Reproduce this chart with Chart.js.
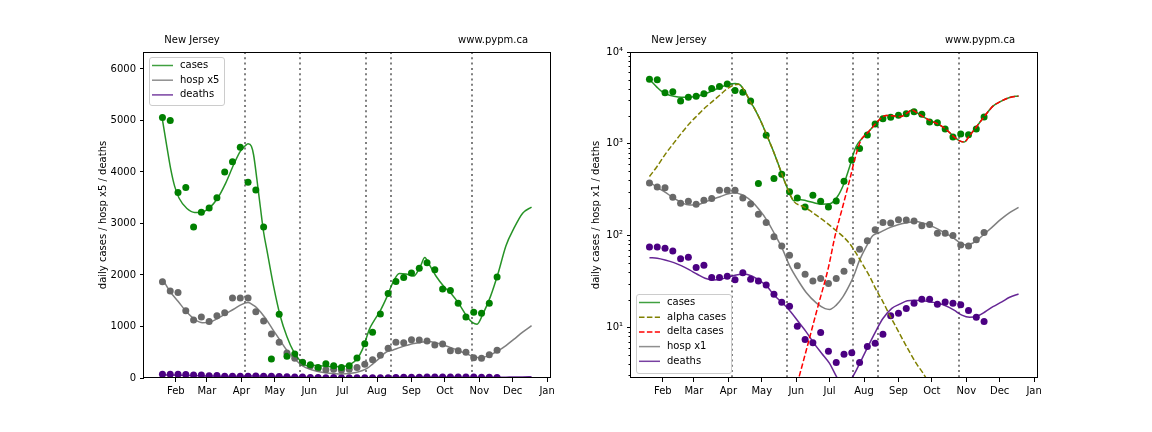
<!DOCTYPE html>
<html>
<head>
<meta charset="utf-8">
<script src="https://cdn.jsdelivr.net/npm/chart.js@4.4.0/dist/chart.umd.min.js"></script>
<style>
  html, body { margin: 0; padding: 0; background: #fff; }
  #wrap { position: relative; width: 1152px; height: 432px; }
  canvas { position: absolute; top: 0; }
</style>
</head>
<body>
<div id="wrap">
  <canvas id="linChart" width="576" height="432" style="left:0"></canvas>
  <canvas id="logChart" width="576" height="432" style="left:576px"></canvas>
</div>
<script>
// day numbers count from Jan 1 2021 (= 0)
var monthDays = [31, 59, 90, 120, 151, 181, 212, 243, 273, 304, 334, 365];
var monthLabels = ['Feb', 'Mar', 'Apr', 'May', 'Jun', 'Jul', 'Aug', 'Sep', 'Oct', 'Nov', 'Dec', 'Jan'];
var changeDays = [93, 143, 202, 225, 297];
var linTicks = [0, 1000, 2000, 3000, 4000, 5000, 6000];
var logTicks = [10, 100, 1000, 10000];
var logLabels = ['10\u00b9', '10\u00b2', '10\u00b3', '10\u2074'];

// weekly data points
var pointDays = [19, 26, 33, 40, 47, 54, 61, 68, 75, 82, 89, 96, 103, 110, 117, 124, 131, 138, 145, 152,
  159, 166, 173, 180, 187, 194, 201, 208, 215, 222, 229, 236, 243, 250, 257, 264, 271, 278, 285, 292,
  299, 306, 313, 320];
var casesPts = [5060, 5000, 3600, 3700, 2930, 3220, 3300, 3500, 4000, 4200, 4480, 3800, 3650, 2930, 370, 1240,
  420, 465, 300, 257, 205, 275, 236, 205, 238, 390, 665, 890, 1245, 1640, 1875, 1950, 2040, 2130, 2240, 2100,
  1730, 1700, 1450, 1185, 1275, 1255, 1450, 1960];
var hospPts = [374, 338, 332, 261, 225, 237, 219, 242, 253, 311, 311, 311, 257, 221, 171, 139, 97, 77, 61, 47,
  38, 32, 34, 30, 34, 41, 53, 71, 88, 116, 139, 137, 149, 148, 144, 128, 132, 106, 106, 100, 79, 77, 90, 108];
var deathsPts = [75, 75, 73, 68, 56, 58, 45, 47.5, 35, 35, 36, 33, 39.5, 33.5, 32, 29, 23, 18.8, 17, 10.3,
  7.4, 6.8, 8.8, 5.5, 4.15, 5.1, 5.3, 4.15, 6.2, 6.7, 8.4, 13.4, 14.3, 16.1, 18.3, 20.2, 20.2, 17.9, 18.9, 18.3,
  17.7, 15.3, 12.9, 11.6];

// model curves
var casesDays = [19, 23, 26.5, 30, 34, 41, 48, 54, 61, 68, 76, 83, 89, 93.5, 96, 99, 101, 104, 107, 110,
  113, 119, 125, 131, 137, 143, 149, 153, 160, 167, 174, 181, 188, 194, 199, 202.5, 205, 209, 215, 221,
  226, 232, 238, 245, 251, 255, 259, 265, 272, 279, 286, 293, 298, 302, 307, 314, 321, 328, 335, 343, 351];
var casesFit = [5010, 4490, 4050, 3720, 3490, 3290, 3215, 3220, 3300, 3470, 3790, 4140, 4400, 4510, 4550, 4500,
  4330, 3850, 3330, 2830, 2480, 1780, 1200, 800, 510, 330, 240, 248, 240, 228, 220, 222, 265, 370, 560, 780,
  940, 1100, 1310, 1580, 1840, 2030, 2020, 1980, 2170, 2340, 2200, 1980, 1780, 1630, 1430, 1190, 1075, 1045,
  1230, 1580, 2040, 2570, 2900, 3200, 3320];
var alphaDays = [19, 26, 33, 41, 48, 55, 62, 69, 76, 83, 89, 95, 99, 101, 104, 107, 110, 113, 119, 125,
  131, 137, 143, 149, 157, 163, 169, 175, 181, 187, 193, 199, 205, 211, 217, 223, 229, 235, 241, 247,
  253, 259, 265, 275];
var alphaFit = [441, 569, 763, 1023, 1316, 1663, 2033, 2467, 2915, 3452, 3981, 4350, 4450, 4330, 3850, 3330,
  2830, 2480, 1780, 1200, 800, 510, 330, 235, 208, 188, 167, 148, 130, 113, 98, 82, 64, 48, 36, 25.6, 19,
  13.6, 10, 7.3, 5.4, 4.05, 3.19, 2.0];
var deltaDays = [150, 160, 170, 180, 186, 193, 199, 204, 209, 215, 221, 226, 232, 238, 245, 251, 255, 259,
  265, 272, 279, 286, 293, 298, 302, 307, 314, 321, 328, 335, 343, 351];
var deltaFit = [2.0, 5.6, 16, 45, 100, 210, 400, 700, 1080, 1310, 1580, 1840, 2030, 2020, 1980, 2170, 2340,
  2200, 1980, 1780, 1630, 1430, 1190, 1075, 1045, 1230, 1580, 2040, 2570, 2900, 3200, 3320];
var hospDays = [19, 26, 33, 40, 48, 55, 62, 69, 76, 83, 89, 96, 101, 104, 111, 118, 125, 131, 139, 145,
  153, 160, 169, 177, 181, 187, 193, 199, 203, 208, 214, 220, 226, 233, 239, 245, 251, 258, 265, 272,
  279, 286, 293, 298, 304, 310, 316, 321, 328, 335, 343, 351];
var hospFit = [385, 335, 298, 260, 228, 215, 217, 232, 250, 267, 283, 293, 282, 272, 236, 190, 145, 107, 70, 47,
  32, 24, 18.5, 16, 15.7, 17.5, 21.5, 29, 37, 54, 76, 100, 108, 119, 127, 134, 138, 142, 137, 128,
  117, 105, 93, 84, 79, 83, 94, 106, 126, 150, 178, 203];
var deathsDays = [19, 26, 33, 41, 48, 55, 62, 69, 76, 83, 89, 97, 104, 111, 118, 125, 131, 139, 146, 153,
  160, 167, 174, 181, 187, 194, 201, 205, 211, 217, 223, 229, 237, 244, 251, 258, 265, 272, 279, 286,
  293, 300, 307, 314, 321, 328, 336, 343, 351];
var deathsFit = [57.5, 56.7, 54.3, 50.8, 46.8, 42.3, 37.9, 34.3, 32.9, 33.4, 35.2, 37.3, 38.2, 36.3, 32.3, 27.8,
  22.5, 18.3, 14.8, 11.5, 8.95, 6.7, 5.2, 4.05, 2.95, 2.2, 2.8, 3.41, 4.78, 6.7, 9.3, 12.5, 16.1, 17.9, 19.5,
  19.8, 19.5, 18.9, 18.3, 17.1, 15.4, 13.6, 12.9, 13.3, 14.8, 16.8, 19.0, 21.3, 23.1];

var FONT = '10px "DejaVu Sans", sans-serif';
var cGreen = '#008000', cGreenLine = 'rgba(0, 128, 0, 0.85)', cGreenKey = 'rgba(0, 128, 0, 0.75)';
var cGrey = '#696969', cGreyLine = 'rgba(105, 105, 105, 0.85)', cGreyKey = 'rgba(105, 105, 105, 0.75)';
var cIndigo = '#4b0082', cIndigoLine = 'rgba(75, 0, 130, 0.85)', cIndigoKey = 'rgba(75, 0, 130, 0.75)';
var cOlive = '#808000', cRed = '#ff0000';

function xy(xs, ys, k) {
    return xs.map(function (x, i) { return { x: x, y: ys[i] * (k || 1) }; });
}

function pts(ys, color, k) {
    return { data: xy(pointDays, ys, k), showLine: false, pointRadius: 3.5, pointBackgroundColor: color, pointBorderWidth: 0 };
}

function curve(xs, ys, color, dash, k) {
    return {
        data: xy(xs, ys, k), showLine: true, pointRadius: 0, borderColor: color, borderWidth: 1.5,
        borderDash: dash || [], cubicInterpolationMode: 'monotone', fill: false
    };
}

// frame, change-point lines, header texts, y title and legend
function decor(o) {
    return {
        id: 'decor',
        beforeDatasetsDraw: function (chart) {
            var ctx = chart.ctx, a = chart.chartArea, xs = chart.scales.x;
            ctx.save();
            ctx.strokeStyle = '#808080';
            ctx.lineWidth = 2;
            ctx.setLineDash([2, 3.3]);
            changeDays.forEach(function (d) {
                var px = Math.round(xs.getPixelForValue(d));
                ctx.beginPath();
                ctx.moveTo(px, a.top);
                ctx.lineTo(px, a.bottom);
                ctx.stroke();
            });
            ctx.restore();
        },
        afterDraw: function (chart) {
            var ctx = chart.ctx, a = chart.chartArea;
            ctx.save();
            ctx.strokeStyle = '#000';
            ctx.lineWidth = 1;
            ctx.strokeRect(Math.round(a.left) - 0.5, Math.round(a.top) + 0.5,
                Math.round(a.right - a.left) + 1, Math.round(a.bottom - a.top) - 1);

            if (o.minor) {
                var ys = chart.scales.y;
                ctx.beginPath();
                [1, 10, 100, 1000].forEach(function (dec) {
                    for (var m = 2; m <= 9; m++) {
                        var v = m * dec;
                        if (v < ys.min || v > ys.max) continue;
                        var py = Math.round(ys.getPixelForValue(v)) + 0.5;
                        ctx.moveTo(a.left - 2.5, py);
                        ctx.lineTo(a.left, py);
                    }
                });
                ctx.stroke();
            }

            ctx.fillStyle = '#000';
            ctx.font = FONT;
            ctx.textBaseline = 'alphabetic';
            var w = a.right - a.left;
            ctx.textAlign = 'left';
            ctx.fillText('New Jersey', a.left + 0.05 * w, 43);
            ctx.textAlign = 'right';
            ctx.fillText('www.pypm.ca', a.left + 0.946 * w, 43);

            ctx.save();
            ctx.translate(o.titleX, (a.top + a.bottom) / 2);
            ctx.rotate(-Math.PI / 2);
            ctx.textAlign = 'center';
            ctx.textBaseline = 'middle';
            ctx.fillText(o.title, 0, 0);
            ctx.restore();

            var L = o.legend;
            ctx.fillStyle = 'rgba(255, 255, 255, 0.8)';
            ctx.strokeStyle = '#cccccc';
            ctx.lineWidth = 1;
            ctx.beginPath();
            ctx.roundRect(L.x + 0.5, L.y + 0.5, L.w, L.h, 2.5);
            ctx.fill();
            ctx.stroke();
            L.items.forEach(function (it, i) {
                var ry = L.y + 8.5 + i * 14.7;
                ctx.strokeStyle = it.color;
                ctx.lineWidth = 1.5;
                ctx.setLineDash(it.dash || []);
                ctx.beginPath();
                ctx.moveTo(L.x + 3, ry);
                ctx.lineTo(L.x + 24, ry);
                ctx.stroke();
                ctx.setLineDash([]);
                ctx.fillStyle = '#000';
                ctx.textAlign = 'left';
                ctx.textBaseline = 'middle';
                ctx.fillText(it.label, L.x + 31, ry);
            });
            ctx.restore();
        }
    };
}

function xScale() {
    return {
        type: 'linear', min: 2.4, max: 367.6,
        afterBuildTicks: function (s) { s.ticks = monthDays.map(function (v) { return { value: v }; }); },
        afterFit: function (s) { s.height = 54; },
        border: { display: false },
        grid: { drawOnChartArea: false, drawTicks: true, tickLength: 4, tickColor: '#000', tickWidth: 1 },
        ticks: {
            autoSkip: false, maxRotation: 0, padding: 3, color: '#000', font: { family: 'DejaVu Sans', size: 10 },
            callback: function (v) { return monthLabels[monthDays.indexOf(v)]; }
        }
    };
}

function yGrid() {
    return { drawOnChartArea: false, drawTicks: true, tickLength: 4, tickColor: '#000', tickWidth: 1 };
}

var common = {
    responsive: false, animation: false, events: [], devicePixelRatio: 1,
    plugins: { legend: { display: false }, tooltip: { enabled: false } }
};

// first dataset is drawn on top, so the model lines come first
new Chart(document.getElementById('linChart').getContext('2d'), {
    type: 'scatter',
    data: {
        datasets: [
            curve(casesDays, casesFit, cGreenLine),
            curve(hospDays, hospFit, cGreyLine, null, 5),
            curve(deathsDays, deathsFit, cIndigoLine),
            pts(casesPts, cGreen),
            pts(hospPts, cGrey, 5),
            pts(deathsPts, cIndigo)
        ]
    },
    options: Object.assign({}, common, {
        layout: { padding: { top: 52, right: 26, left: 0, bottom: 0 } },
        scales: {
            x: xScale(),
            y: {
                type: 'linear', min: 0, max: 6330,
                afterBuildTicks: function (s) { s.ticks = linTicks.map(function (v) { return { value: v }; }); },
                afterFit: function (s) { s.width = 144; },
                border: { display: false },
                grid: yGrid(),
                ticks: {
                    padding: 4, color: '#000', font: { family: 'DejaVu Sans', size: 10 },
                    callback: function (v) { return String(v); }
                }
            }
        }
    }),
    plugins: [decor({
        title: 'daily cases / hosp x5 / deaths', titleX: 103.5, minor: false,
        legend: {
            x: 149, y: 57, w: 75, h: 48, items: [
                { label: 'cases', color: cGreenKey },
                { label: 'hosp x5', color: cGreyKey },
                { label: 'deaths', color: cIndigoKey }
            ]
        }
    })]
});

new Chart(document.getElementById('logChart').getContext('2d'), {
    type: 'scatter',
    data: {
        datasets: [
            curve(deltaDays, deltaFit, cRed, [5.5, 2.4]),
            curve(alphaDays, alphaFit, cOlive, [5.5, 2.4]),
            curve(casesDays, casesFit, cGreenLine),
            curve(hospDays, hospFit, cGreyLine),
            curve(deathsDays, deathsFit, cIndigoLine),
            pts(casesPts, cGreen),
            pts(hospPts, cGrey),
            pts(deathsPts, cIndigo)
        ]
    },
    options: Object.assign({}, common, {
        layout: { padding: { top: 52, right: 115, left: 0, bottom: 0 } },
        scales: {
            x: xScale(),
            y: {
                type: 'logarithmic', min: 2.81, max: 10000,
                afterBuildTicks: function (s) { s.ticks = logTicks.map(function (v) { return { value: v }; }); },
                afterFit: function (s) { s.width = 55; },
                border: { display: false },
                grid: yGrid(),
                ticks: {
                    padding: 4, color: '#000', font: { family: 'DejaVu Sans', size: 10 },
                    callback: function (v) { return logLabels[logTicks.indexOf(v)]; }
                }
            }
        }
    }),
    plugins: [decor({
        title: 'daily cases / hosp x1 / deaths', titleX: 20, minor: true,
        legend: {
            x: 60, y: 294, w: 95, h: 79, items: [
                { label: 'cases', color: cGreenKey },
                { label: 'alpha cases', color: cOlive, dash: [5.5, 2.4] },
                { label: 'delta cases', color: cRed, dash: [5.5, 2.4] },
                { label: 'hosp x1', color: cGreyKey },
                { label: 'deaths', color: cIndigoKey }
            ]
        }
    })]
});
</script>
</body>
</html>
